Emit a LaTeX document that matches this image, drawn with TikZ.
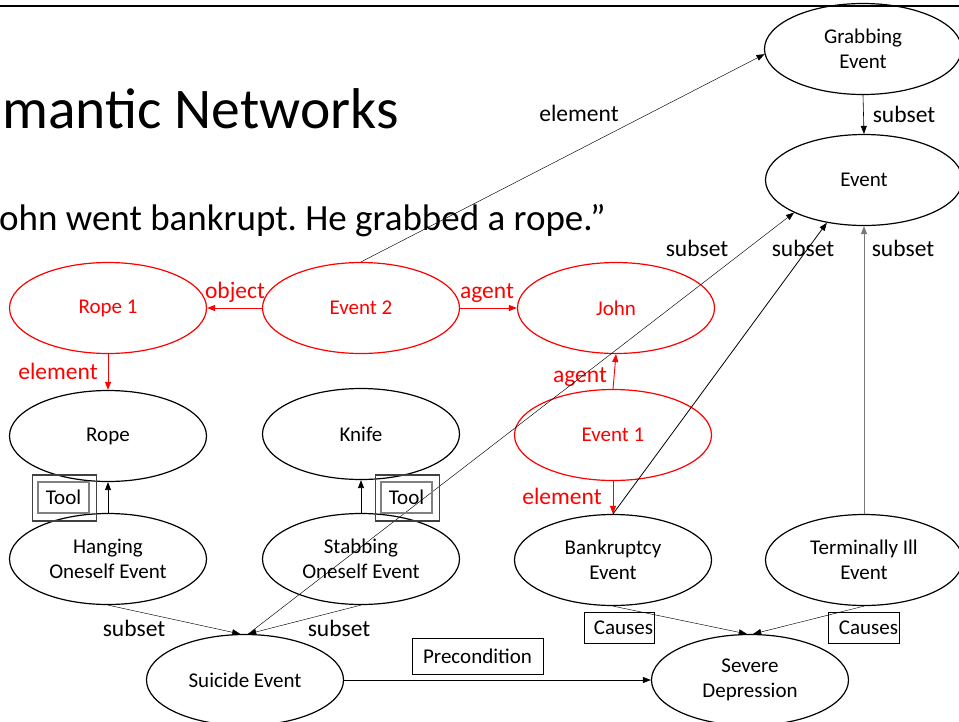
\documentclass[tikz,border=0pt]{standalone}
\usepackage{fontspec}
\setmainfont{Carlito}
\usetikzlibrary{shapes.geometric,arrows.meta}
\definecolor{pptred}{RGB}{255,0,0}
\definecolor{boxgray}{RGB}{64,64,64}
\definecolor{innergray}{RGB}{128,128,128}
\definecolor{linkgray}{RGB}{120,120,120}
\frenchspacing

\begin{document}
\begin{tikzpicture}[x=1pt,y=-1pt,
  concept/.style={ellipse,draw,line width=1.2pt,minimum width=197pt,minimum height=91pt,
    inner sep=0pt,align=center,font=\fontsize{21}{25}\selectfont},
  redconcept/.style={concept,draw=pptred,text=pptred},
  link/.style={-{Triangle[length=8pt,width=6pt]},line width=0.6pt},
  thinlink/.style={link,line width=0.45pt},
  redlink/.style={link,color=pptred,line width=0.9pt},
  lbl/.style={font=\fontsize{23.5}{28}\selectfont,anchor=base,inner sep=0pt},
  redlbl/.style={lbl,text=pptred},
  tag/.style={draw,line width=0.8pt,font=\fontsize{21}{25}\selectfont,inner sep=0pt},
  tooltag/.style={draw=innergray,line width=1.1pt,minimum width=51pt,minimum height=31pt,
    font=\fontsize{21}{25}\selectfont,inner sep=0pt},
  toolframe/.style={draw=boxgray,line width=1.5pt,minimum width=64pt,minimum height=46pt,inner sep=0pt}
]
\useasboundingbox (0,0) rectangle (959,721);
\clip (0,0) rectangle (959,721);

% header rule and slide text
\draw[line width=2.2pt] (0,6) -- (959,6);
\node[anchor=base west,inner sep=0pt,font=\fontsize{57.5}{68}\selectfont] (title) at (2,128) {mantic Networks};
\node[anchor=base west,inner sep=0pt,font=\fontsize{37}{44}\selectfont] (quote) at (-1,230) {ohn went bankrupt. He grabbed a rope.”};

% generic concepts
\node[concept] (grab) at (863,49) {Grabbing\\Event};
\node[concept] (event) at (864,180) {Event};
\node[concept] (rope) at (108,436) {Rope};
\node[concept] (knife) at (361,434) {Knife};
\node[concept] (hang) at (108,559) {Hanging\\Oneself Event};
\node[concept] (stab) at (361,559) {Stabbing\\Oneself Event};
\node[concept] (bank) at (613,560) {Bankruptcy\\Event};
\node[concept] (ill) at (864,560) {Terminally Ill\\Event};
\node[concept] (suicide) at (245,680) {Suicide Event};
\node[concept] (depr) at (750,680) {Severe\\Depression};

% story instances
\node[redconcept] (rope1) at (108,308) {Rope 1};
\node[redconcept] (ev2) at (361,308) {Event 2};
\node[redconcept] (john) at (616,308) {John};
\node[redconcept] (ev1) at (613,435) {Event 1};

% instance relations
\draw[redlink] (ev2.west) -- (rope1.east);
\draw[redlink] (ev2.east) -- (john.west);
\draw[redlink] (rope1.south) -- (rope.north);
\draw[redlink] (ev1.north) -- (john.south);
\draw[redlink] (ev1.south) -- (bank.north);
\node[redlbl] (lobject) at (235,298) {object};
\node[redlbl] (lagent1) at (487,298) {agent};
\node[redlbl] (lelem1) at (58,379) {element};
\node[redlbl] (lagent2) at (580,382) {agent};
\node[redlbl] (lelem2) at (562,504) {element};

% taxonomy links
\draw[thinlink] (ev2.north) -- (grab.183);
\draw[link] (grab.south) -- (event.north);
\draw[thinlink] (suicide.86) -- (event.205);
\draw[link,line width=0.8pt] (bank.north) -- (event.229);
\draw[link,draw=linkgray,line width=1pt] (ill.north) -- (event.south);
\draw[thinlink] (hang.south) -- (suicide.96);
\draw[thinlink] (stab.south) -- (suicide.86);
\node[lbl] (lelem0) at (579,121) {element};
\node[lbl] (lsub0) at (904,122) {subset};
\node[lbl] (lsub1) at (697,256) {subset};
\node[lbl] (lsub2) at (803,256) {subset};
\node[lbl] (lsub3) at (903,256) {subset};
\node[lbl] (lsub4) at (134,636) {subset};
\node[lbl] (lsub5) at (339,636) {subset};

% tool relations
\draw[link,line width=0.8pt] (hang.north) -- (rope.south);
\draw[link,line width=0.8pt] (stab.north) -- (knife.south);
\node[toolframe] (toolframeA) at (64.5,498) {};
\node[tooltag] (toolA) at (63.5,497.5) {Tool};
\node[toolframe] (toolframeB) at (407.5,498) {};
\node[tooltag] (toolB) at (406.5,497.5) {Tool};

% causal links
\draw[thinlink] (bank.south) -- (depr.94);
\draw[thinlink] (ill.south) -- (depr.86);
\draw[link] (suicide.east) -- (depr.west);
\node[tag,minimum width=70pt,minimum height=31pt,text width=68pt,align=right] (causeA) at (619,627.5) {Causes};
\node[tag,minimum width=71pt,minimum height=31pt,text width=69pt,align=right] (causeB) at (863.5,627.5) {Causes};
\node[tag,minimum width=131pt,minimum height=36pt] (precond) at (477.5,656) {Precondition};
\end{tikzpicture}
\end{document}
